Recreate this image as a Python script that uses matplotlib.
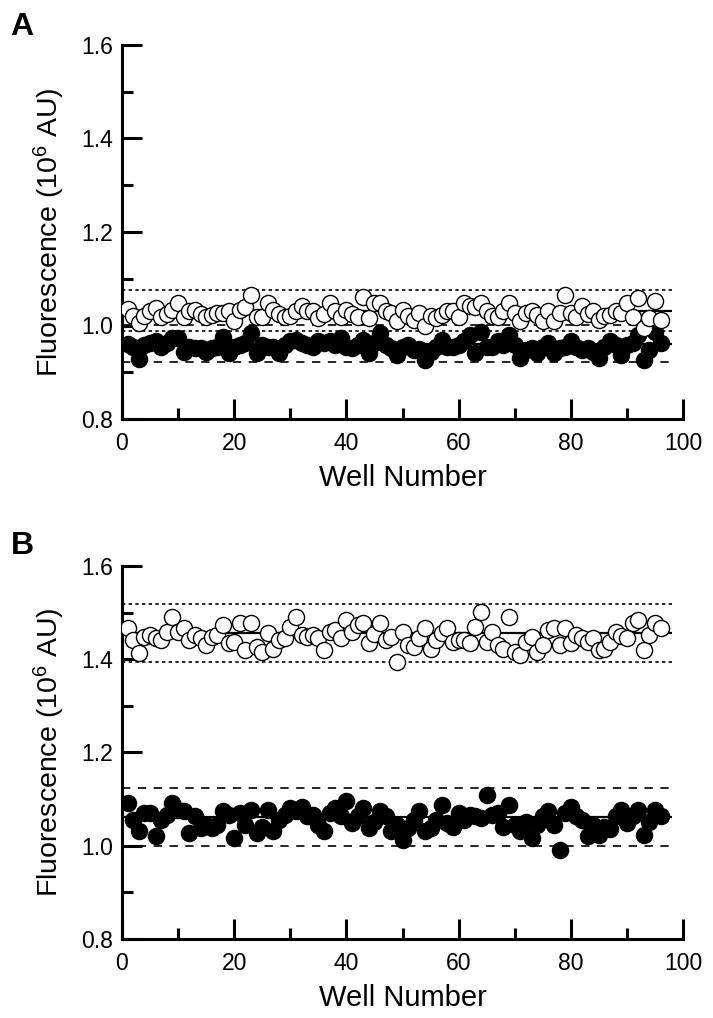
import numpy as np
import matplotlib.pyplot as plt
import matplotlib.ticker as mticker

plt.rcParams['font.family'] = ['Liberation Sans', 'DejaVu Sans']
plt.rcParams['mathtext.default'] = 'regular'

# ---------------------------------------------------------------------------
# Dados (poço 1..96)
# ---------------------------------------------------------------------------
wells = np.arange(1, 97)

a_open = [
    1.035, 1.020, 1.005, 1.020, 1.030, 1.037, 1.019, 1.025, 1.034, 1.048,
    1.019, 1.030, 1.034, 1.025, 1.019, 1.023, 1.027, 1.027, 1.030, 1.009,
    1.034, 1.040, 1.066, 1.019, 1.019, 1.048, 1.034, 1.025, 1.019, 1.020,
    1.030, 1.041, 1.030, 1.030, 1.016, 1.025, 1.048, 1.030, 1.019, 1.034,
    1.025, 1.019, 1.062, 1.016, 1.048, 1.048, 1.030, 1.027, 1.009, 1.034,
    1.020, 1.012, 1.027, 1.000, 1.020, 1.016, 1.023, 1.030, 1.030, 1.019,
    1.048, 1.041, 1.040, 1.048, 1.030, 1.020, 1.019, 1.030, 1.048, 1.027,
    1.009, 1.027, 1.030, 1.023, 1.009, 1.030, 1.009, 1.027, 1.066, 1.027,
    1.019, 1.041, 1.025, 1.030, 1.012, 1.020, 1.023, 1.030, 1.027, 1.048,
    1.019, 1.059, 0.994, 1.016, 1.052, 1.012,
]
a_filled = [
    0.960, 0.955, 0.928, 0.959, 0.962, 0.966, 0.955, 0.962, 0.973, 0.973,
    0.944, 0.955, 0.952, 0.952, 0.944, 0.952, 0.955, 0.976, 0.941, 0.955,
    0.959, 0.962, 0.984, 0.941, 0.959, 0.955, 0.955, 0.941, 0.959, 0.966,
    0.969, 0.962, 0.959, 0.955, 0.966, 0.962, 0.966, 0.959, 0.973, 0.955,
    0.952, 0.959, 0.969, 0.941, 0.962, 0.984, 0.959, 0.952, 0.937, 0.955,
    0.959, 0.948, 0.950, 0.927, 0.944, 0.955, 0.969, 0.955, 0.955, 0.959,
    0.966, 0.980, 0.941, 0.987, 0.955, 0.955, 0.966, 0.959, 0.980, 0.959,
    0.930, 0.948, 0.952, 0.941, 0.955, 0.962, 0.941, 0.952, 0.955, 0.966,
    0.955, 0.948, 0.952, 0.944, 0.930, 0.955, 0.966, 0.959, 0.937, 0.959,
    0.962, 0.980, 0.927, 0.948, 0.987, 0.962,
]
b_open = [
    1.466, 1.441, 1.413, 1.448, 1.452, 1.445, 1.441, 1.459, 1.491, 1.459,
    1.466, 1.441, 1.452, 1.445, 1.431, 1.448, 1.452, 1.474, 1.434, 1.438,
    1.477, 1.420, 1.477, 1.427, 1.416, 1.456, 1.423, 1.441, 1.445, 1.470,
    1.491, 1.452, 1.448, 1.452, 1.445, 1.420, 1.459, 1.463, 1.445, 1.484,
    1.459, 1.474, 1.477, 1.434, 1.455, 1.477, 1.441, 1.448, 1.395, 1.459,
    1.431, 1.427, 1.445, 1.466, 1.423, 1.441, 1.456, 1.466, 1.438, 1.441,
    1.441, 1.434, 1.470, 1.502, 1.438, 1.459, 1.431, 1.423, 1.491, 1.416,
    1.409, 1.438, 1.448, 1.416, 1.430, 1.463, 1.466, 1.431, 1.466, 1.434,
    1.452, 1.445, 1.438, 1.445, 1.420, 1.423, 1.438, 1.459, 1.450, 1.445,
    1.477, 1.484, 1.420, 1.452, 1.477, 1.466,
]
b_filled = [
    1.091, 1.056, 1.031, 1.070, 1.070, 1.020, 1.056, 1.066, 1.091, 1.077,
    1.074, 1.027, 1.063, 1.038, 1.045, 1.038, 1.045, 1.074, 1.066, 1.016,
    1.070, 1.045, 1.077, 1.027, 1.041, 1.077, 1.031, 1.056, 1.066, 1.081,
    1.074, 1.084, 1.063, 1.066, 1.045, 1.031, 1.070, 1.081, 1.063, 1.095,
    1.049, 1.063, 1.081, 1.038, 1.052, 1.074, 1.063, 1.031, 1.045, 1.013,
    1.038, 1.056, 1.074, 1.031, 1.038, 1.056, 1.088, 1.049, 1.041, 1.070,
    1.056, 1.066, 1.063, 1.060, 1.109, 1.066, 1.070, 1.041, 1.088, 1.045,
    1.031, 1.052, 1.016, 1.045, 1.063, 1.074, 1.045, 0.991, 1.070, 1.084,
    1.063, 1.056, 1.020, 1.045, 1.024, 1.041, 1.035, 1.063, 1.077, 1.049,
    1.063, 1.077, 1.024, 1.052, 1.077, 1.063,
]

# media e limites (media +/- 3 DP)
a_open_lines = (1.032, 0.988, 1.076)
a_filled_lines = (0.961, 0.921, 1.002)
b_open_lines = (1.457, 1.395, 1.518)
b_filled_lines = (1.062, 1.000, 1.124)
line_x = (0, 98)

ylabel = 'Fluorescence (10$^{6}$ AU)'
xlabel = 'Well Number'

# ---------------------------------------------------------------------------
fig = plt.figure(figsize=(7.13, 10.18), dpi=100)

W, H = 713, 1018


def axes_px(left, top, right, bottom):
    return fig.add_axes([left / W, 1 - bottom / H, (right - left) / W, (bottom - top) / H])


def painel(ax, open_vals, filled_vals, open_lines, filled_lines):
    x0, x1 = line_x
    # linhas do grupo aberto (pontilhadas)
    ax.hlines(open_lines[0], x0, x1, colors='black', linewidth=1.6, zorder=1)
    ax.hlines(open_lines[1:], x0, x1, colors='black', linewidth=1.2,
              linestyles=(0, (2, 2)), zorder=1)
    # linhas do grupo cheio (tracejadas)
    ax.hlines(filled_lines[0], x0, x1, colors='black', linewidth=1.6, zorder=1)
    ax.hlines(filled_lines[1:], x0, x1, colors='black', linewidth=1.2,
              linestyles=(0, (5, 4.5)), zorder=1)

    ax.plot(wells, filled_vals, 'o', ms=11.6, mfc='black', mec='black', mew=1.0,
            ls='none', zorder=3)
    ax.plot(wells, open_vals, 'o', ms=11.6, mfc='white', mec='black', mew=1.0,
            ls='none', zorder=4)

    ax.set_xlim(0, 100)
    ax.set_ylim(0.8, 1.6)
    ax.xaxis.set_major_locator(mticker.MultipleLocator(20))
    ax.xaxis.set_minor_locator(mticker.MultipleLocator(10))
    ax.yaxis.set_major_locator(mticker.MultipleLocator(0.2))
    ax.yaxis.set_minor_locator(mticker.MultipleLocator(0.1))
    ax.yaxis.set_major_formatter(mticker.FormatStrFormatter('%.1f'))

    for s in ['top', 'right']:
        ax.spines[s].set_visible(False)
    for s in ['left', 'bottom']:
        ax.spines[s].set_linewidth(2.2)

    ax.tick_params(which='major', direction='in', length=14.5, width=2.2,
                   labelsize=16.5)
    ax.tick_params(which='minor', direction='in', length=8, width=2.2)
    ax.tick_params(axis='y', which='major', pad=6.5)
    ax.tick_params(axis='x', which='major', pad=9)

    ax.set_ylabel(ylabel, fontsize=20.5)
    ax.set_xlabel(xlabel, fontsize=21)
    ax.yaxis.set_label_coords(-0.098, 0.5)
    ax.xaxis.set_label_coords(0.5, -0.121)


ax_a = axes_px(122, 45, 683, 419)
painel(ax_a, a_open, a_filled, a_open_lines, a_filled_lines)

ax_b = axes_px(122, 566, 683, 939)
painel(ax_b, b_open, b_filled, b_open_lines, b_filled_lines)

fig.text(10 / W, 1 - 35 / H, 'A', fontsize=23, fontweight='bold', va='baseline')
fig.text(11 / W, 1 - 554 / H, 'B', fontsize=23, fontweight='bold', va='baseline')

fig.savefig('out.png', dpi=100)
